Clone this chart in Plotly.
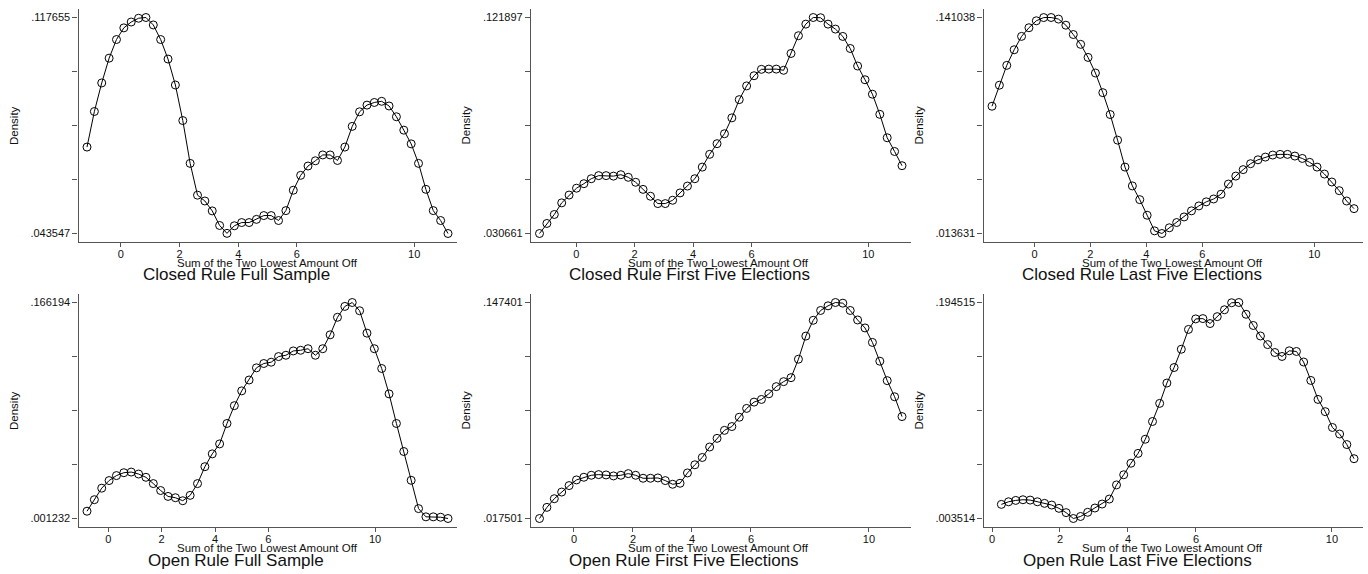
import plotly.graph_objects as go

# ---------------- data ----------------
titles = ["Closed Rule Full Sample", "Closed Rule First Five Elections", "Closed Rule Last Five Elections",
          "Open Rule Full Sample", "Open Rule First Five Elections", "Open Rule Last Five Elections"]
x_title = "Sum of the Two Lowest Amount Off"
y_title = "Density"
x_tick_vals = [0, 2, 4, 6, 10]
x_tick_text = ["0", "2", "4", "6", "10"]

y_min_labels = [".043547", ".030661", ".013631", ".001232", ".017501", ".003514"]
y_max_labels = [".117655", ".121897", ".141038", ".166194", ".147401", ".194515"]

x_closed_full = [-1.155, -0.904, -0.653, -0.401, -0.150, 0.101, 0.352, 0.603, 0.855, 1.106,
                 1.357, 1.608, 1.859, 2.111, 2.362, 2.613, 2.864, 3.115, 3.367, 3.618,
                 3.869, 4.120, 4.371, 4.623, 4.874, 5.125, 5.376, 5.627, 5.879, 6.130,
                 6.381, 6.632, 6.883, 7.135, 7.386, 7.637, 7.888, 8.139, 8.391, 8.642,
                 8.893, 9.144, 9.395, 9.647, 9.898, 10.149, 10.400, 10.651, 10.903, 11.154]
y_closed_full = [0.0732, 0.0854, 0.0952, 0.1037, 0.1101, 0.1141, 0.1161, 0.1174, 0.117655, 0.1151,
                 0.1101, 0.1034, 0.0945, 0.0823, 0.0676, 0.0567, 0.0547, 0.0513, 0.0463, 0.0436,
                 0.0462, 0.0473, 0.0473, 0.0484, 0.0497, 0.0497, 0.0480, 0.0514, 0.0584, 0.0635,
                 0.0667, 0.0685, 0.0705, 0.0705, 0.0686, 0.0732, 0.0803, 0.0853, 0.0876, 0.0885,
                 0.0889, 0.0873, 0.0836, 0.0790, 0.0743, 0.0676, 0.0587, 0.0514, 0.0480, 0.043547]

x_closed_first = [-1.257, -1.004, -0.750, -0.497, -0.244, 0.010, 0.263, 0.516, 0.769, 1.023,
                  1.276, 1.529, 1.783, 2.036, 2.289, 2.543, 2.796, 3.049, 3.302, 3.556,
                  3.809, 4.062, 4.316, 4.569, 4.822, 5.076, 5.329, 5.582, 5.835, 6.089,
                  6.342, 6.595, 6.849, 7.102, 7.355, 7.609, 7.862, 8.115, 8.368, 8.622,
                  8.875, 9.128, 9.382, 9.635, 9.888, 10.142, 10.395, 10.648, 10.901, 11.155]
y_closed_first = [0.030661, 0.0349, 0.0387, 0.0436, 0.0469, 0.0498, 0.0517, 0.0538, 0.0551, 0.0551,
                  0.0549, 0.0555, 0.0544, 0.0523, 0.0493, 0.0464, 0.0433, 0.0433, 0.0447, 0.0478,
                  0.0507, 0.0538, 0.0587, 0.0641, 0.0686, 0.0728, 0.0795, 0.0872, 0.0930, 0.0973,
                  0.1000, 0.1001, 0.1001, 0.0996, 0.1067, 0.1142, 0.1191, 0.121897, 0.1218, 0.1191,
                  0.1170, 0.1139, 0.1088, 0.1014, 0.0956, 0.0895, 0.0810, 0.0711, 0.0653, 0.0593]

x_closed_last = [-1.517, -1.253, -0.989, -0.725, -0.461, -0.197, 0.067, 0.331, 0.595, 0.859,
                 1.123, 1.387, 1.651, 1.915, 2.179, 2.443, 2.707, 2.971, 3.235, 3.499,
                 3.763, 4.027, 4.291, 4.555, 4.819, 5.083, 5.347, 5.611, 5.875, 6.139,
                 6.403, 6.667, 6.931, 7.195, 7.459, 7.723, 7.987, 8.251, 8.515, 8.779,
                 9.043, 9.307, 9.571, 9.835, 10.099, 10.363, 10.627, 10.891, 11.155, 11.419]
y_closed_last = [0.0887, 0.1011, 0.1128, 0.1220, 0.1299, 0.1350, 0.1391, 0.1410, 0.141038, 0.1401,
                 0.1365, 0.1310, 0.1252, 0.1175, 0.1083, 0.0967, 0.0838, 0.0687, 0.0528, 0.0417,
                 0.0336, 0.0244, 0.0152, 0.013631, 0.0170, 0.0201, 0.0234, 0.0270, 0.0299, 0.0323,
                 0.0340, 0.0368, 0.0428, 0.0475, 0.0513, 0.0548, 0.0571, 0.0587, 0.0599, 0.0603,
                 0.0603, 0.0593, 0.0579, 0.0556, 0.0528, 0.0487, 0.0440, 0.0389, 0.0328, 0.0283]

x_open_full = [-0.798, -0.522, -0.246, 0.030, 0.306, 0.583, 0.859, 1.135, 1.411, 1.687,
               1.963, 2.239, 2.515, 2.791, 3.067, 3.344, 3.620, 3.896, 4.172, 4.448,
               4.724, 5.000, 5.276, 5.552, 5.828, 6.105, 6.381, 6.657, 6.933, 7.209,
               7.485, 7.761, 8.037, 8.313, 8.589, 8.866, 9.142, 9.418, 9.694, 9.970,
               10.246, 10.522, 10.798, 11.074, 11.350, 11.627, 11.903, 12.179, 12.455, 12.731]
y_open_full = [0.0068, 0.0156, 0.0244, 0.0302, 0.0340, 0.0362, 0.0367, 0.0352, 0.0327, 0.0279,
               0.0226, 0.0181, 0.0171, 0.0148, 0.0189, 0.0279, 0.0408, 0.0506, 0.0582, 0.0738,
               0.0874, 0.0987, 0.1070, 0.1163, 0.1196, 0.1206, 0.1249, 0.1259, 0.1292, 0.1297,
               0.1309, 0.1259, 0.1309, 0.1415, 0.1549, 0.1632, 0.166194, 0.1599, 0.1428, 0.1309,
               0.1158, 0.0964, 0.0738, 0.0524, 0.0304, 0.0088, 0.0025, 0.0025, 0.0022, 0.001232]

x_open_first = [-1.168, -0.917, -0.666, -0.416, -0.165, 0.086, 0.337, 0.588, 0.838, 1.089,
                1.340, 1.591, 1.842, 2.092, 2.343, 2.594, 2.845, 3.096, 3.346, 3.597,
                3.848, 4.099, 4.350, 4.600, 4.851, 5.102, 5.353, 5.604, 5.854, 6.105,
                6.356, 6.607, 6.858, 7.108, 7.359, 7.610, 7.861, 8.112, 8.362, 8.613,
                8.864, 9.115, 9.366, 9.616, 9.867, 10.118, 10.369, 10.620, 10.870, 11.121]
y_open_first = [0.017501, 0.0242, 0.0294, 0.0334, 0.0373, 0.0407, 0.0423, 0.0435, 0.0439, 0.0437,
                0.0431, 0.0435, 0.0445, 0.0435, 0.0417, 0.0417, 0.0419, 0.0403, 0.0381, 0.0387,
                0.0449, 0.0498, 0.0542, 0.0605, 0.0657, 0.0705, 0.0728, 0.0784, 0.0837, 0.0875,
                0.0891, 0.0925, 0.0968, 0.0998, 0.1022, 0.1133, 0.1272, 0.1367, 0.1426, 0.1454,
                0.147401, 0.1470, 0.1426, 0.1369, 0.1321, 0.1234, 0.1121, 0.1004, 0.0907, 0.0788]

x_open_last = [0.275, 0.487, 0.698, 0.910, 1.122, 1.334, 1.545, 1.757, 1.969, 2.180,
               2.392, 2.604, 2.815, 3.027, 3.239, 3.451, 3.662, 3.874, 4.086, 4.297,
               4.509, 4.721, 4.932, 5.144, 5.356, 5.568, 5.779, 5.991, 6.203, 6.414,
               6.626, 6.838, 7.049, 7.261, 7.473, 7.685, 7.896, 8.108, 8.320, 8.531,
               8.743, 8.955, 9.166, 9.378, 9.590, 9.802, 10.013, 10.225, 10.437, 10.648]
y_open_last = [0.0160, 0.0183, 0.0195, 0.0201, 0.0198, 0.0183, 0.0169, 0.0154, 0.0125, 0.0087,
               0.003514, 0.0053, 0.0090, 0.0128, 0.0163, 0.0207, 0.0332, 0.0422, 0.0524, 0.0611,
               0.0736, 0.0893, 0.1053, 0.1233, 0.1370, 0.1532, 0.1707, 0.1800, 0.1803, 0.1759,
               0.1820, 0.1881, 0.1943, 0.194515, 0.1841, 0.1742, 0.1649, 0.1573, 0.1503, 0.1468,
               0.1518, 0.1512, 0.1419, 0.1256, 0.1088, 0.0980, 0.0840, 0.0782, 0.0689, 0.0564]

xs = [x_closed_full, x_closed_first, x_closed_last, x_open_full, x_open_first, x_open_last]
ys = [y_closed_full, y_closed_first, y_closed_last, y_open_full, y_open_first, y_open_last]

# ---------------- layout (pixel geometry) ----------------
W, H = 1368, 574
row_top = [9, 294]
row_bot = [242, 527]
col_left = [78.5, 531, 983.5]
col_right = [456.5, 910.5, 1362.5]
title_x = [[236, 689, 1142], [236, 684, 1137]]
title_y = [275, 560]
xtitle_x = [267, 719, 1172]
xtitle_y = [263, 548]
ytitle_x = [13.5, 465, 918]
PAD = 8.5  # px padding inside plot region

FONT = "Liberation Sans, Arial, Helvetica, sans-serif"
AXIS_COLOR = "#555555"

fig = go.Figure()
annotations = []
layout = {}

for k in range(6):
    r, c = divmod(k, 3)
    ax = "" if k == 0 else str(k + 1)
    x, y = xs[k], ys[k]
    fig.add_trace(go.Scatter(
        x=x, y=y, mode="lines+markers", xaxis="x" + ax, yaxis="y" + ax,
        line=dict(color="black", width=1),
        marker=dict(symbol="circle-open", size=8, color="black", line=dict(width=1, color="black")),
        showlegend=False, hoverinfo="x+y"))

    wpx = col_right[c] - col_left[c]
    hpx = row_bot[r] - row_top[r]
    # the axis range covers the data and the labelled ticks (as Stata does)
    xmin = min(min(x), min(x_tick_vals))
    xmax = max(max(x), max(x_tick_vals))
    ymin, ymax = min(y), max(y)
    xp = PAD / (wpx - 2 * PAD) * (xmax - xmin)
    yp = PAD / (hpx - 2 * PAD) * (ymax - ymin)
    R = ymax - ymin
    yt = [ymin, ymin + R / 4, ymin + R / 2, ymin + 3 * R / 4, ymax]

    layout["xaxis" + ax] = dict(
        domain=[col_left[c] / W, col_right[c] / W],
        anchor="y" + ax, range=[xmin - xp, xmax + xp],
        showline=True, linecolor=AXIS_COLOR, linewidth=1.2,
        showgrid=False, zeroline=False,
        ticks="outside", ticklen=4, tickwidth=1, tickcolor=AXIS_COLOR,
        tickvals=x_tick_vals, ticktext=x_tick_text, ticklabelstandoff=-2,
        tickfont=dict(family=FONT, size=11, color="#111111"))
    layout["yaxis" + ax] = dict(
        domain=[1 - row_bot[r] / H, 1 - row_top[r] / H],
        anchor="x" + ax, range=[ymin - yp, ymax + yp],
        showline=True, linecolor=AXIS_COLOR, linewidth=1.2,
        showgrid=False, zeroline=False,
        ticks="outside", ticklen=5, tickwidth=1, tickcolor=AXIS_COLOR,
        tickvals=yt, ticktext=[y_min_labels[k], "", "", "", y_max_labels[k]],
        tickfont=dict(family=FONT, size=11, color="#111111"))

    annotations.append(dict(text=titles[k], x=title_x[r][c] / W, y=1 - title_y[r] / H,
                            xref="paper", yref="paper", xanchor="center", yanchor="middle",
                            showarrow=False, font=dict(family=FONT, size=17, color="#111111")))
    annotations.append(dict(text=x_title, x=xtitle_x[c] / W, y=1 - xtitle_y[r] / H,
                            xref="paper", yref="paper", xanchor="center", yanchor="middle",
                            showarrow=False, font=dict(family=FONT, size=11.5, color="#111111")))
    annotations.append(dict(text=y_title, x=ytitle_x[c] / W,
                            y=1 - (row_top[r] + row_bot[r]) / 2 / H,
                            xref="paper", yref="paper", xanchor="center", yanchor="middle",
                            textangle=-90, showarrow=False,
                            font=dict(family=FONT, size=11.5, color="#111111")))

fig.update_layout(width=W, height=H, margin=dict(l=0, r=0, t=0, b=0),
                  paper_bgcolor="white", plot_bgcolor="white",
                  annotations=annotations, **layout)

fig.write_html("out.html", config={"displayModeBar": False},
               post_script="document.body.style.margin='0';document.body.style.overflow='hidden';")
